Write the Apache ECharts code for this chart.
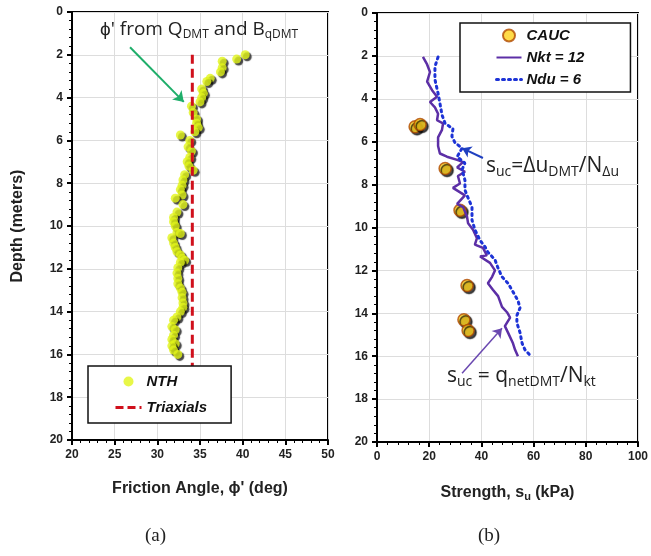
<!DOCTYPE html>
<html>
<head>
<meta charset="utf-8">
<script src="https://cdn.jsdelivr.net/npm/echarts@6/dist/echarts.min.js"></script>
<style>
* { margin: 0; padding: 0; }
body { background: #fff; }
#chart { width: 651px; height: 556px; }
</style>
</head>
<body>
<div id="chart"></div>
<script>
// (a) friction angle profile
var nthDepth = [2.0, 2.2, 2.3, 2.6, 2.8, 3.1, 3.25, 3.6, 3.8, 4.0, 4.2, 4.4, 4.7, 5.0, 5.2, 5.4, 5.6, 5.75,
  6.0, 6.3, 6.5, 6.8, 7.0, 7.2, 7.4, 7.6, 7.85, 8.1, 8.3, 8.55, 8.7, 9.0, 9.35, 9.6, 9.8, 10.0, 10.3, 10.35,
  10.55, 10.8, 11.0, 11.2, 11.35, 11.5, 11.6, 11.7, 11.95, 12.2, 12.45, 12.7, 12.9, 13.1, 13.35, 13.6, 13.8,
  14.0, 14.25, 14.4, 14.7, 14.85, 15.1, 15.3, 15.5, 15.6, 15.8, 16.0];
var nthPhi = [40.3, 39.3, 37.6, 37.6, 37.4, 36.2, 35.8, 35.2, 35.4, 35.2, 35.0, 34.0, 34.2, 34.6, 34.6, 34.8, 34.4, 32.7,
  33.8, 33.6, 34.0, 33.8, 33.5, 33.7, 34.2, 33.2, 33.0, 32.9, 32.7, 32.9, 32.1, 33.0, 32.3, 31.9, 31.9, 32.1, 32.3, 32.7,
  31.7, 31.9, 32.1, 32.3, 32.7, 32.9, 33.2, 32.7, 32.4, 32.3, 32.4, 32.4, 32.7, 32.9, 32.9, 33.0, 33.0,
  32.7, 32.3, 31.9, 31.7, 32.1, 31.9, 31.7, 32.1, 31.7, 31.9, 32.4];
var triaxDepth = [2.0, 17.0];
var triaxPhi = [34.1, 34.1];

// (b) undrained strength profile
var caucDepth = [5.3, 5.2, 7.25, 9.2, 12.7, 14.3, 14.8];
var caucSu = [14.6, 16.5, 26.1, 31.8, 34.5, 33.3, 34.9];
var nktDepth = [2.05, 2.4, 2.75, 3.2, 3.6, 3.9, 4.15, 4.4, 4.7, 5.0, 5.15, 5.45, 5.8, 6.2, 6.55, 6.7, 6.85, 6.95,
  7.2, 7.4, 7.6, 7.95, 8.15, 8.5, 8.9, 9.05, 9.5, 9.8, 10.1, 10.5, 10.8, 10.95, 11.3, 11.35, 11.65, 12.0, 12.3,
  12.6, 12.9, 13.2, 13.7, 13.95, 14.2, 14.6, 14.9, 15.4, 15.7, 16.0];
var nktSu = [17.6, 19.2, 20.3, 19.2, 21.1, 23.0, 20.3, 22.2, 23.4, 23.0, 25.3, 24.9, 23.4, 23.4, 24.1, 26.8, 30.7, 33.0,
  30.7, 33.7, 31.0, 31.8, 29.1, 33.7, 30.7, 33.0, 34.5, 34.9, 36.8, 38.3, 37.5, 40.6, 42.1, 39.5, 43.3, 45.2, 44.1,
  42.5, 44.4, 46.4, 47.9, 49.8, 51.0, 49.0, 50.2, 52.1, 52.9, 54.0];
var nduDepth = [2.05, 2.5, 3.1, 3.75, 4.2, 4.75, 5.15, 5.4, 5.75, 6.05, 6.3, 6.7, 7.0, 7.3, 7.8, 8.25, 8.5, 9.05,
  9.65, 10.1, 10.6, 10.9, 11.15, 11.5, 11.9, 12.3, 12.6, 13.0, 13.4, 13.75, 14.1, 14.45, 14.9, 15.4, 15.7, 15.95];
var nduSu = [23.4, 22.2, 22.2, 23.4, 24.1, 24.9, 26.1, 29.1, 28.7, 29.9, 32.6, 30.7, 33.7, 32.6, 33.7, 33.7, 34.5, 36.4,
  36.4, 37.5, 39.5, 41.4, 42.5, 45.2, 46.4, 47.9, 50.2, 52.1, 54.0, 54.8, 53.6, 53.6, 54.8, 55.6, 56.7, 58.6];

function pairs(xs, ys) {
  return xs.map(function (x, i) { return [x, ys[i]]; });
}

var labelFont = { color: '#222', fontWeight: 'bold', fontSize: 12, fontFamily: 'Liberation Sans, Arial' };
var nameFont = { color: '#222', fontWeight: 'bold', fontSize: 16, fontFamily: 'Liberation Sans, Arial' };
var legendFont = { color: '#111', fontWeight: 'bold', fontStyle: 'italic', fontSize: 15, fontFamily: 'Liberation Sans, Arial' };
var shadow = { shadowColor: 'rgba(0,0,0,0.9)', shadowOffsetX: 2, shadowOffsetY: 2, shadowBlur: 1 };
var noSymbol = { opacity: 0 };

function depthAxis(idx, name) {
  return {
    gridIndex: idx, type: 'value', inverse: true, min: 0, max: 20, interval: 2,
    name: name, nameLocation: 'middle', nameGap: 46, nameTextStyle: nameFont,
    axisLine: { show: true, lineStyle: { color: '#000', width: 2 } },
    axisTick: { show: true, length: 5, lineStyle: { color: '#000', width: 2 } },
    minorTick: { show: true, splitNumber: 5, length: 3, lineStyle: { color: '#000' } },
    axisLabel: Object.assign({ margin: 9 }, labelFont),
    splitLine: { show: true, lineStyle: { color: '#ddd' } }
  };
}

var chart = echarts.init(document.getElementById('chart'));
chart.setOption({
  animation: false,
  grid: [
    { left: 72, top: 12, width: 256, height: 428, show: true, borderColor: '#000', borderWidth: 2 },
    { left: 377, top: 13, width: 261, height: 429, show: true, borderColor: '#000', borderWidth: 2 }
  ],
  xAxis: [
    {
      gridIndex: 0, type: 'value', min: 20, max: 50, interval: 5,
      name: "Friction Angle, \u03d5' (deg)", nameLocation: 'middle', nameGap: 41, nameTextStyle: nameFont,
      axisLine: { show: true, onZero: false, lineStyle: { color: '#000', width: 2 } },
      axisTick: { show: true, length: 5, lineStyle: { color: '#000', width: 2 } },
      minorTick: { show: true, splitNumber: 5, length: 3, lineStyle: { color: '#000' } },
      axisLabel: Object.assign({ margin: 9 }, labelFont),
      splitLine: { show: true, lineStyle: { color: '#ddd' } }
    },
    {
      gridIndex: 1, type: 'value', min: 0, max: 100, interval: 20,
      name: 'Strength, s{sub|u} (kPa)', nameLocation: 'middle', nameGap: 41,
      nameTextStyle: Object.assign({ rich: { sub: Object.assign({}, nameFont, { fontSize: 11, padding: [8, 0, 0, 0] }) } }, nameFont),
      axisLine: { show: true, onZero: false, lineStyle: { color: '#000', width: 2 } },
      axisTick: { show: true, length: 5, lineStyle: { color: '#000', width: 2 } },
      minorTick: { show: true, splitNumber: 5, length: 3, lineStyle: { color: '#000' } },
      axisLabel: Object.assign({ margin: 9 }, labelFont),
      splitLine: { show: true, lineStyle: { color: '#ddd' } }
    }
  ],
  yAxis: [depthAxis(0, 'Depth (meters)'), depthAxis(1, '')],
  legend: [
    {
      data: [
        { name: 'NTH', itemStyle: { shadowColor: 'transparent' } },
        { name: 'Triaxials', itemStyle: noSymbol, lineStyle: { color: '#d0101c', width: 3, type: [8, 4] } }
      ],
      orient: 'vertical', left: 88, top: 366,
      padding: [8, 24, 8, 26], itemGap: 11, itemWidth: 26, itemHeight: 10,
      backgroundColor: '#fff', borderColor: '#111', borderWidth: 1.5, textStyle: legendFont
    },
    {
      data: [
        { name: 'CAUC' },
        { name: 'Nkt = 12', itemStyle: noSymbol },
        { name: 'Ndu = 6', itemStyle: noSymbol, lineStyle: { color: '#1d33d6', width: 3, type: [2, 4] } }
      ],
      orient: 'vertical', left: 460, top: 23,
      padding: [5, 46, 5, 35], itemGap: 7, itemWidth: 25, itemHeight: 12,
      backgroundColor: '#fff', borderColor: '#111', borderWidth: 1.5, textStyle: legendFont
    }
  ],
  series: [
    {
      name: 'Triaxials', type: 'line', xAxisIndex: 0, yAxisIndex: 0, symbol: 'none',
      data: pairs(triaxPhi, triaxDepth),
      lineStyle: { color: '#d0101c', width: 3, type: [9, 5] }, itemStyle: { color: '#d0101c' },
      markLine: {
        silent: true, symbol: ['none', 'arrow'], symbolSize: 10, label: { show: false },
        lineStyle: { color: '#1fae6a', width: 2, type: 'solid' },
        data: [[{ coord: [26.8, 1.65] }, { coord: [33.1, 4.2] }]]
      }
    },
    {
      name: 'NTH', type: 'scatter', xAxisIndex: 0, yAxisIndex: 0, symbolSize: 9,
      data: pairs(nthPhi, nthDepth),
      itemStyle: Object.assign({ color: '#e2f51a' }, shadow)
    },
    {
      name: 'Nkt = 12', type: 'line', xAxisIndex: 1, yAxisIndex: 1, symbol: 'none',
      data: pairs(nktSu, nktDepth),
      lineStyle: { color: '#5c2fa6', width: 2.5 }, itemStyle: { color: '#5c2fa6' },
      markLine: {
        silent: true, symbol: ['none', 'arrow'], symbolSize: 9, label: { show: false },
        lineStyle: { color: '#6a48b0', width: 1.5, type: 'solid' },
        data: [[{ coord: [32.6, 16.8] }, { coord: [47.9, 14.7] }]]
      }
    },
    {
      name: 'Ndu = 6', type: 'line', xAxisIndex: 1, yAxisIndex: 1, symbol: 'none',
      data: pairs(nduSu, nduDepth),
      lineStyle: { color: '#1d33d6', width: 3, type: [2, 4], cap: 'round' }, itemStyle: { color: '#1d33d6' },
      markLine: {
        silent: true, symbol: ['none', 'arrow'], symbolSize: 9, label: { show: false },
        lineStyle: { color: '#2040c0', width: 2, type: 'solid' },
        data: [[{ coord: [40.6, 6.76] }, { coord: [32.6, 6.3] }]]
      }
    },
    {
      name: 'CAUC', type: 'scatter', xAxisIndex: 1, yAxisIndex: 1, symbolSize: 12,
      data: pairs(caucSu, caucDepth),
      itemStyle: Object.assign({ color: '#ffd21a', borderColor: '#b04a00', borderWidth: 1.5 }, shadow)
    }
  ],
  graphic: [
    {
      type: 'text', left: 100, top: 20, z: 100,
      style: {
        text: "\u03d5' from Q{s|DMT} and B{s|qDMT}",
        font: '19px "Open Sans", sans-serif', fill: '#222',
        rich: { s: { fontSize: 12, fontFamily: 'Open Sans', fill: '#222', padding: [10, 0, 0, 0] } }
      }
    },
    {
      type: 'text', left: 486, top: 156, z: 100,
      style: {
        text: 's{s|uc}=\u0394u{s|DMT}/N{s|\u0394u}',
        font: '21px "Open Sans", sans-serif', fill: '#222',
        rich: { s: { fontSize: 14, fontFamily: 'Open Sans', fill: '#222', padding: [11, 0, 0, 0] } }
      }
    },
    {
      type: 'text', left: 447, top: 366, z: 100,
      style: {
        text: 's{s|uc} = q{s|netDMT}/N{s|kt}',
        font: '21px "Open Sans", sans-serif', fill: '#222',
        rich: { s: { fontSize: 14, fontFamily: 'Open Sans', fill: '#222', padding: [11, 0, 0, 0] } }
      }
    },
    {
      type: 'text', left: 145, top: 527,
      style: { text: '(a)', font: '19px "Liberation Serif", serif', fill: '#222' }
    },
    {
      type: 'text', left: 478, top: 527,
      style: { text: '(b)', font: '19px "Liberation Serif", serif', fill: '#222' }
    }
  ]
});
</script>
</body>
</html>
